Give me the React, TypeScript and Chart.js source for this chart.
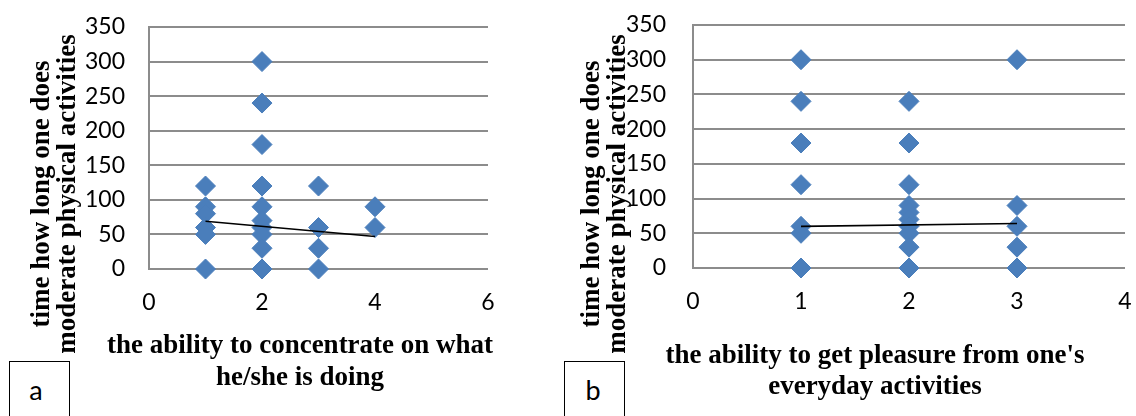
import React, { useEffect, useRef } from 'react';
import { Chart, registerables } from 'chart.js';

Chart.register(...registerables);

// ---------- Data ----------
// Panel a: ability to concentrate vs minutes of moderate physical activity
const concentrationX = [1, 1, 1, 1, 1, 1, 2, 2, 2, 2, 2, 2, 2, 2, 2, 2, 3, 3, 3, 3, 4, 4];
const concentrationY = [120, 90, 80, 60, 50, 0, 300, 240, 180, 120, 90, 70, 60, 50, 30, 0, 120, 60, 30, 0, 90, 60];
const concentrationTrendX = [1, 4];
const concentrationTrendY = [69, 47];

// Panel b: ability to get pleasure vs minutes of moderate physical activity
const pleasureX = [1, 1, 1, 1, 1, 1, 1, 2, 2, 2, 2, 2, 2, 2, 2, 2, 2, 3, 3, 3, 3, 3];
const pleasureY = [300, 240, 180, 120, 60, 50, 0, 240, 180, 120, 90, 80, 70, 60, 50, 30, 0, 300, 90, 60, 30, 0];
const pleasureTrendX = [1, 3];
const pleasureTrendY = [60, 64];

// Ticks
const yTickValues = [0, 50, 100, 150, 200, 250, 300, 350];
const xTickValuesA = [0, 2, 4, 6];
const xTickValuesB = [0, 1, 2, 3, 4];

// Texts
const yTitleLines = ['time how long one does', 'moderate physical activities'];
const xTitleLinesA = ['the ability to concentrate on what', 'he/she is doing'];
const xTitleLinesB = ["the ability to get pleasure from one's", 'everyday activities'];
const panelLabelA = 'a';
const panelLabelB = 'b';

// ---------- Styling ----------
const MARKER = '#4A7EBB';
const GRID = '#8C8C8C';
const TICK_FONT = { family: 'Lato, "Open Sans", sans-serif', size: 23 };
const TITLE_FONT = 'bold 27px "Liberation Serif", "Times New Roman", serif';

type PanelLayout = {
  width: number;
  top: number;
  bottom: number;
  left: number;
  right: number;
  yPad: number;
  xPad: number;
  yLineX: number[];
  yCenter: number;
  xCenter: number;
  xBaselines: number[];
};

function makeTitlePlugin(layout: PanelLayout, xLines: string[]) {
  return {
    id: 'panelTitles',
    afterDraw(chart: any) {
      const ctx = chart.ctx as CanvasRenderingContext2D;
      ctx.save();
      ctx.fillStyle = '#000';
      ctx.font = TITLE_FONT;
      ctx.textAlign = 'center';
      ctx.textBaseline = 'alphabetic';
      xLines.forEach((t, i) => ctx.fillText(t, layout.xCenter, layout.xBaselines[i]));
      ctx.textBaseline = 'middle';
      yTitleLines.forEach((t, i) => {
        ctx.save();
        ctx.translate(layout.yLineX[i], layout.yCenter);
        ctx.rotate(-Math.PI / 2);
        ctx.fillText(t, 0, 0);
        ctx.restore();
      });
      ctx.restore();
    },
  };
}

function makeConfig(
  xs: number[],
  ys: number[],
  tx: number[],
  ty: number[],
  xTicks: number[],
  xMax: number,
  layout: PanelLayout,
  xLines: string[]
): any {
  return {
    type: 'scatter',
    data: {
      datasets: [
        {
          type: 'line',
          data: tx.map((x, i) => ({ x, y: ty[i] })),
          borderColor: '#000',
          borderWidth: 1.6,
          pointRadius: 0,
          fill: false,
          tension: 0,
          order: 0,
        },
        {
          data: xs.map((x, i) => ({ x, y: ys[i] })),
          pointStyle: 'rectRot',
          pointRadius: 10,
          backgroundColor: MARKER,
          borderColor: MARKER,
          borderWidth: 1,
          clip: false,
          order: 1,
        },
      ],
    },
    options: {
      responsive: false,
      animation: false,
      events: [],
      layout: {
        padding: { left: 0, top: layout.top, right: layout.width - layout.right, bottom: 0 },
      },
      plugins: {
        legend: { display: false },
        tooltip: { enabled: false },
      },
      scales: {
        x: {
          type: 'linear',
          min: 0,
          max: xMax,
          afterBuildTicks: (s: any) => {
            s.ticks = xTicks.map((v) => ({ value: v }));
          },
          grid: { display: false, drawTicks: false },
          border: { display: false },
          ticks: { font: TICK_FONT, color: '#000', padding: layout.xPad, maxRotation: 0 },
          afterFit: (s: any) => {
            s.height = 416 - layout.bottom;
            s.paddingLeft = 0;
            s.paddingRight = 0;
          },
        },
        y: {
          type: 'linear',
          min: 0,
          max: 350,
          afterBuildTicks: (s: any) => {
            s.ticks = yTickValues.map((v) => ({ value: v }));
          },
          grid: { color: GRID, lineWidth: 2, drawTicks: false },
          border: { color: GRID, width: 2 },
          ticks: { font: TICK_FONT, color: '#000', padding: layout.yPad },
          afterFit: (s: any) => {
            s.width = layout.left;
            s.paddingTop = 0;
            s.paddingBottom = 0;
          },
        },
      },
    },
    plugins: [makeTitlePlugin(layout, xLines)],
  };
}

const layoutA: PanelLayout = {
  width: 560,
  top: 27,
  bottom: 269,
  left: 149,
  right: 488,
  yPad: 24,
  xPad: 20,
  yLineX: [42, 68],
  yCenter: 194,
  xCenter: 300,
  xBaselines: [353, 385],
};

const layoutB: PanelLayout = {
  width: 576,
  top: 25,
  bottom: 268,
  left: 133,
  right: 569,
  yPad: 27,
  xPad: 20,
  yLineX: [32, 58],
  yCenter: 194,
  xCenter: 315,
  xBaselines: [363, 394],
};

const boxStyle = (left: number): React.CSSProperties => ({
  position: 'absolute',
  left,
  top: 361,
  width: 61,
  height: 80,
  border: '1px solid #000',
  boxSizing: 'border-box',
  background: '#fff',
});

const letterStyle = (w: number): React.CSSProperties => ({
  position: 'absolute',
  left: 0,
  top: 15,
  width: w,
  height: 26,
  lineHeight: '26px',
  textAlign: 'center',
  fontFamily: 'Lato, "Open Sans", sans-serif',
  fontSize: 27,
  color: '#000',
});

export default function App() {
  const refA = useRef<HTMLCanvasElement | null>(null);
  const refB = useRef<HTMLCanvasElement | null>(null);

  useEffect(() => {
    const a = new Chart(
      refA.current as HTMLCanvasElement,
      makeConfig(
        concentrationX,
        concentrationY,
        concentrationTrendX,
        concentrationTrendY,
        xTickValuesA,
        6,
        layoutA,
        xTitleLinesA
      )
    );
    const b = new Chart(
      refB.current as HTMLCanvasElement,
      makeConfig(pleasureX, pleasureY, pleasureTrendX, pleasureTrendY, xTickValuesB, 4, layoutB, xTitleLinesB)
    );
    return () => {
      a.destroy();
      b.destroy();
    };
  }, []);

  return (
    <div
      style={{
        position: 'absolute',
        left: 0,
        top: 0,
        width: 1136,
        height: 416,
        background: '#fff',
        overflow: 'hidden',
      }}
    >
      <canvas ref={refA} width={560} height={416} style={{ position: 'absolute', left: 0, top: 0 }} />
      <canvas ref={refB} width={576} height={416} style={{ position: 'absolute', left: 560, top: 0 }} />
      <div style={boxStyle(9)}>
        <div style={letterStyle(52)}>{panelLabelA}</div>
      </div>
      <div style={boxStyle(564)}>
        <div style={letterStyle(56)}>{panelLabelB}</div>
      </div>
    </div>
  );
}
